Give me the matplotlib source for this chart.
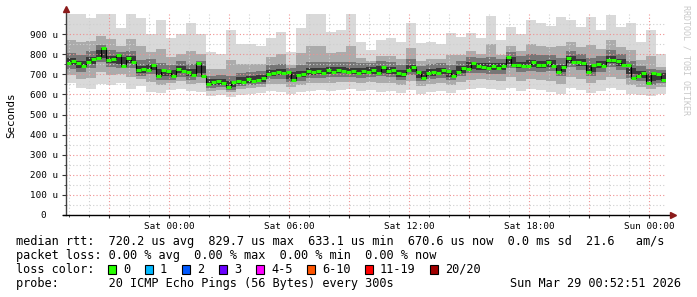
import numpy as np
import pandas as pd
import matplotlib
matplotlib.use("Agg")
import matplotlib.pyplot as plt
import matplotlib.dates as mdates
from matplotlib.patches import Rectangle
from matplotlib.ticker import FixedLocator, FuncFormatter

# ---------------- data ----------------
start_time = "2026-03-27 18:51"
end_time = "2026-03-29 00:51"

# median RTT (microseconds), 15-minute bins
median_rtt = [758, 765, 755, 740, 760, 775, 782, 830, 770, 775,
              795, 740, 780, 760, 720, 725, 722, 745, 690, 720,
              715, 692, 725, 718, 712, 698, 755, 690, 652, 662,
              665, 655, 636, 660, 668, 664, 675, 668, 672, 680,
              700, 708, 712, 705, 712, 672, 697, 700, 715, 710,
              718, 708, 722, 712, 720, 716, 712, 715, 708, 718,
              712, 720, 708, 737, 715, 720, 705, 700, 720, 737,
              712, 680, 705, 712, 708, 720, 715, 690, 712, 730,
              725, 755, 740, 737, 732, 740, 730, 740, 787, 745,
              748, 740, 742, 760, 748, 745, 760, 742, 712, 737,
              780, 760, 762, 755, 712, 745, 750, 742, 770, 772,
              765, 745, 748, 680, 690, 705, 655, 705, 700, 672]

# smoke envelopes (microseconds), 30-minute bins
smoke_max = [1000, 1000, 980, 1000, 1000, 930, 1000, 980, 900, 970,
             880, 900, 955, 900, 810, 800, 920, 850, 850, 840,
             880, 910, 810, 930, 1000, 1000, 910, 920, 1000, 860,
             820, 870, 880, 860, 955, 855, 860, 850, 905, 885,
             905, 880, 990, 870, 935, 900, 970, 955, 940, 985,
             970, 935, 985, 920, 995, 935, 955, 860, 920, 800]
smoke_min = [655, 630, 625, 650, 645, 655, 625, 640, 610, 605,
             620, 625, 615, 610, 590, 595, 585, 595, 600, 605,
             615, 610, 600, 610, 615, 620, 615, 620, 625, 615,
             620, 610, 615, 605, 620, 600, 610, 615, 605, 620,
             625, 630, 625, 620, 630, 615, 625, 620, 610, 600,
             630, 620, 605, 615, 630, 620, 600, 595, 590, 600]
smoke_hi2 = [870, 860, 865, 890, 875, 840, 875, 840, 810, 825,
             785, 800, 815, 800, 725, 725, 770, 750, 750, 750,
             785, 800, 745, 805, 840, 840, 805, 810, 840, 780,
             765, 790, 790, 775, 830, 765, 775, 775, 795, 795,
             815, 800, 850, 795, 840, 815, 850, 840, 835, 840,
             860, 835, 845, 825, 870, 835, 820, 770, 790, 735]
smoke_lo2 = [695, 675, 680, 710, 695, 700, 685, 675, 660, 645,
             655, 665, 650, 655, 615, 620, 610, 625, 630, 635,
             650, 650, 635, 645, 655, 655, 655, 660, 660, 655,
             660, 655, 655, 645, 665, 640, 650, 655, 645, 660,
             670, 675, 670, 665, 685, 665, 675, 670, 665, 650,
             685, 675, 655, 670, 685, 675, 645, 635, 625, 635]
smoke_hi3 = [805, 795, 815, 845, 820, 810, 815, 770, 775, 755,
             745, 765, 750, 765, 690, 695, 690, 705, 710, 715,
             745, 750, 730, 745, 760, 760, 760, 760, 760, 755,
             755, 765, 760, 745, 775, 740, 750, 755, 745, 765,
             785, 780, 785, 775, 810, 790, 800, 795, 795, 780,
             815, 800, 780, 790, 820, 800, 765, 740, 725, 720]
smoke_lo3 = [725, 710, 730, 760, 735, 730, 730, 690, 700, 670,
             670, 685, 670, 685, 630, 635, 620, 640, 645, 650,
             675, 675, 660, 665, 680, 680, 685, 685, 685, 680,
             685, 690, 685, 670, 695, 665, 675, 680, 670, 690,
             705, 705, 700, 700, 730, 710, 715, 710, 715, 690,
             735, 720, 690, 710, 735, 720, 680, 665, 645, 655]
smoke_hi4 = [780, 765, 785, 820, 790, 785, 790, 740, 750, 725,
             720, 740, 725, 740, 675, 675, 665, 685, 690, 695,
             720, 725, 710, 715, 730, 730, 735, 735, 730, 730,
             735, 740, 735, 720, 745, 715, 725, 730, 720, 740,
             760, 755, 755, 755, 785, 760, 770, 765, 770, 745,
             790, 775, 745, 765, 790, 775, 730, 715, 700, 705]
smoke_lo4 = [745, 730, 750, 780, 755, 750, 755, 705, 720, 690,
             690, 705, 690, 705, 645, 645, 635, 650, 655, 660,
             690, 695, 675, 685, 695, 700, 700, 705, 700, 700,
             700, 705, 700, 685, 710, 680, 690, 700, 685, 705,
             725, 720, 720, 720, 750, 730, 735, 730, 735, 710,
             755, 740, 710, 730, 755, 740, 700, 680, 665, 670]

y_ticks = [0, 100, 200, 300, 400, 500, 600, 700, 800, 900]
y_minor = [50, 150, 250, 350, 450, 550, 650, 750, 850, 950]

stat_line = "median rtt:  720.2 us avg  829.7 us max  633.1 us min  670.6 us now  0.0 ms sd  21.6   am/s"
loss_line = "packet loss: 0.00 % avg  0.00 % max  0.00 % min  0.00 % now"
probe_line = "probe:       20 ICMP Echo Pings (56 Bytes) every 300s"
stamp = "Sun Mar 29 00:52:51 2026"
loss_labels = ["0", "1", "2", "3", "4-5", "6-10", "11-19", "20/20"]
loss_colors = ["#26ff00", "#00b8ff", "#0059ff", "#6a00ff",
               "#ff00ff", "#ff5500", "#ff0000", "#a00000"]

# ---------------- figure ----------------
W, H = 697, 297
fig = plt.figure(figsize=(W / 100, H / 100), dpi=100)
fig.patch.set_facecolor("white")
MONO = "DejaVu Sans Mono"

ax = fig.add_axes([66 / W, 82 / H, 600 / W, 201 / H])
ax.set_facecolor("white")

t0 = pd.Timestamp(start_time)
t1 = pd.Timestamp(end_time)
med_edges = mdates.date2num(pd.date_range(t0, periods=len(median_rtt) + 1, freq="15min"))
band_edges = mdates.date2num(pd.date_range(t0, periods=len(smoke_max) + 1, freq="30min"))


def ext(a):
    return np.append(a, a[-1])


shades = [(smoke_min, smoke_max, "#d9d9d9"),
          (smoke_lo2, smoke_hi2, "#ababab"),
          (smoke_lo3, smoke_hi3, "#767676"),
          (smoke_lo4, smoke_hi4, "#383838")]
for lo, hi, c in shades:
    ax.fill_between(band_edges, ext(lo), ext(hi), step="post", color=c, lw=0, zorder=1)

med = np.array(median_rtt)
ax.step(med_edges, ext(med), where="post", color="black", lw=0.8, zorder=3)
ax.hlines(med, med_edges[:-1], med_edges[1:], color="#26ff00", lw=2.2, zorder=4)

ax.set_xlim(mdates.date2num(t0), mdates.date2num(t1))
ax.set_ylim(0, 1000)

# grid / ticks
ax.set_axisbelow(False)
ax.xaxis.set_major_locator(mdates.HourLocator(byhour=range(0, 24, 3)))
ax.xaxis.set_minor_locator(mdates.HourLocator())


def xfmt(v, pos):
    d = mdates.num2date(v)
    return d.strftime("%a %H:%M") if d.hour % 6 == 0 else ""


ax.xaxis.set_major_formatter(FuncFormatter(xfmt))
ax.yaxis.set_major_locator(FixedLocator(y_ticks))
ax.yaxis.set_minor_locator(FixedLocator(y_minor))
ax.yaxis.set_major_formatter(FuncFormatter(lambda v, p: "0  " if v == 0 else f"{int(round(v))} u"))

ax.grid(which="major", color="#f09090", linestyle=(0, (1, 2)), lw=0.8)
ax.grid(which="minor", color="#cfcfcf", linestyle=(0, (1, 2)), lw=0.8)
ax.tick_params(axis="y", which="major", length=3, width=0.8, color="#333333", labelsize=6.7, pad=3)
ax.tick_params(axis="x", which="major", length=2, width=0.8, color="#333333", labelsize=6.7, pad=3)
ax.tick_params(which="minor", length=1.5, width=0.6, color="#333333")
for lab in ax.get_xticklabels() + ax.get_yticklabels():
    lab.set_fontfamily(MONO)

for s in ["top", "right", "left", "bottom"]:
    ax.spines[s].set_visible(False)

# axes lines with arrows
ax.plot([0, 0], [0, 1.02], transform=ax.transAxes, color="#404040", lw=1, clip_on=False, zorder=5)
ax.plot([-0.005, 1.008], [0, 0], transform=ax.transAxes, color="black", lw=1, clip_on=False, zorder=5)
ax.plot([0], [1.025], transform=ax.transAxes, marker="^", color="#8b1a1a", ms=4, clip_on=False, zorder=6)
ax.plot([1.012], [0], transform=ax.transAxes, marker=">", color="#8b1a1a", ms=4, clip_on=False, zorder=6)


def fx(x):
    return x / W


def fy(y):
    return 1 - y / H


fig.text(fx(11), fy(115), "Seconds", rotation=90, ha="center", va="center",
         family=MONO, size=7.8)
fig.text(fx(686), fy(60), "RRDTOOL / TOBI OETIKER", rotation=270, ha="center", va="center",
         family=MONO, size=6, color="#c8c8c8")

LS = 8.55
fig.text(fx(16), fy(245), stat_line, family=MONO, size=LS, va="baseline")
fig.text(fx(16), fy(259), loss_line, family=MONO, size=LS, va="baseline")
fig.text(fx(16), fy(273), "loss color:", family=MONO, size=LS, va="baseline")
fig.text(fx(16), fy(287), probe_line, family=MONO, size=LS, va="baseline")
fig.text(fx(681), fy(287), stamp, family=MONO, size=LS, va="baseline", ha="right")

box_x = [108, 145, 182, 219, 256, 307, 365, 430]
for bx, lab, col in zip(box_x, loss_labels, loss_colors):
    fig.patches.append(Rectangle((fx(bx), fy(274)), 8 / W, 9 / H, transform=fig.transFigure,
                                 facecolor=col, edgecolor="black", lw=0.8))
    fig.text(fx(bx + 15), fy(273), lab, family=MONO, size=LS, va="baseline")

fig.savefig("out.png", dpi=100, facecolor="white")
